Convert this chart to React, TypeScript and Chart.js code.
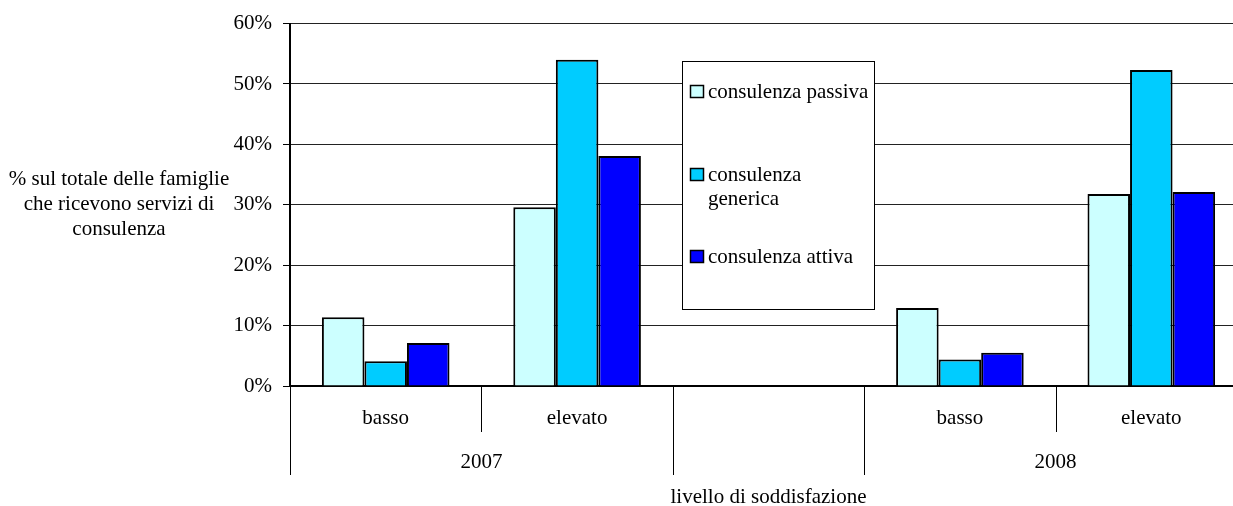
import React, { useEffect, useRef } from "react";
import { Chart, registerables } from "chart.js";

Chart.register(...registerables);

const categories = ["basso", "elevato", "", "basso", "elevato"];
const groupLabels = ["2007", "", "2008"];
const groupSizes = [2, 1, 2];
const seriesNames = ["consulenza passiva", "consulenza generica", "consulenza attiva"];
const legendLines = [["consulenza passiva"], ["consulenza", "generica"], ["consulenza attiva"]];
const passiva = [11.4, 29.6, null, 12.9, 31.8];
const generica = [4.1, 54.0, null, 4.4, 52.3];
const attiva = [7.1, 38.1, null, 5.5, 32.1];
const colors = ["#CCFFFF", "#00CCFF", "#0000FF"];
const yTitleLines = ["% sul totale delle famiglie", "che ricevono servizi di", "consulenza"];
const xTitle = "livello di soddisfazione";

const FONT = "'Liberation Serif', 'Times New Roman', serif";
const FS = 21;

const overlayPlugin = {
  id: "overlay",
  afterDraw(chart: any) {
    const ctx = chart.ctx;
    const xs = chart.scales.x;
    const area = chart.chartArea;
    const bottom = area.bottom;
    const half = (xs.getPixelForValue(1) - xs.getPixelForValue(0)) / 2;
    ctx.save();
    ctx.font = `${FS}px ${FONT}`;
    ctx.fillStyle = "#000";
    ctx.textBaseline = "alphabetic";
    ctx.textAlign = "center";
    // level 1 labels
    categories.forEach((c, i) => {
      if (c) ctx.fillText(c, xs.getPixelForValue(i), bottom + 38);
    });
    // separators
    ctx.strokeStyle = "#000";
    ctx.lineWidth = 1;
    let idx = 0;
    const boundaries: number[] = [];
    groupSizes.forEach((size, g) => {
      const start = idx;
      const end = idx + size - 1;
      const left = xs.getPixelForValue(start) - half;
      const right = xs.getPixelForValue(end) + half;
      boundaries.push(left);
      if (g === groupSizes.length - 1) boundaries.push(right);
      for (let k = start; k < end; k++) {
        const x = Math.round(xs.getPixelForValue(k) + half) + 0.5;
        ctx.beginPath();
        ctx.moveTo(x, bottom);
        ctx.lineTo(x, bottom + 46);
        ctx.stroke();
      }
      if (groupLabels[g]) ctx.fillText(groupLabels[g], (left + right) / 2, bottom + 82);
      idx += size;
    });
    boundaries.forEach((b) => {
      const x = Math.round(b) + 0.5;
      ctx.beginPath();
      ctx.moveTo(x, bottom);
      ctx.lineTo(x, bottom + 89);
      ctx.stroke();
    });
    // x title
    ctx.fillText(xTitle, (area.left + area.right) / 2, bottom + 117);
    // y title
    yTitleLines.forEach((l, i) => ctx.fillText(l, 119, 185 + i * 25));
    // legend
    const lx = 682.5, ly = 61.5, lw = 192, lh = 248;
    ctx.fillStyle = "#fff";
    ctx.fillRect(lx, ly, lw, lh);
    ctx.strokeRect(lx, ly, lw, lh);
    ctx.textAlign = "left";
    const baselines = [98, 181, 263];
    legendLines.forEach((lines, i) => {
      ctx.fillStyle = colors[i];
      ctx.fillRect(690, baselines[i] - 13, 14, 13);
      ctx.strokeStyle = "#000";
      ctx.lineWidth = 1.5;
      ctx.strokeRect(690.5, baselines[i] - 12.5, 13, 12);
      ctx.fillStyle = "#000";
      lines.forEach((t, j) => ctx.fillText(t, 708, baselines[i] + j * 24));
    });
    ctx.restore();
  },
};

export default function App() {
  const ref = useRef<HTMLCanvasElement>(null);
  useEffect(() => {
    if (!ref.current) return;
    const data = [passiva, generica, attiva];
    const chart = new Chart(ref.current, {
      type: "bar",
      data: {
        labels: categories,
        datasets: seriesNames.map((n, i) => ({
          label: n,
          data: data[i] as any,
          backgroundColor: colors[i],
          borderColor: "#000",
          borderWidth: 2,
          barPercentage: 1,
          categoryPercentage: 2 / 3,
        })),
      },
      options: {
        responsive: false,
        animation: false,
        devicePixelRatio: 1,
        layout: { padding: { left: 0, right: 13, top: 22, bottom: 0 } },
        plugins: { legend: { display: false }, tooltip: { enabled: false }, title: { display: false } },
        scales: {
          x: {
            grid: { display: false },
            border: { display: true, color: "#000", width: 2 },
            ticks: { display: false },
            afterFit: (s: any) => {
              s.height = 120;
            },
          },
          y: {
            min: 0,
            max: 60,
            ticks: {
              stepSize: 10,
              callback: (v: any) => v + "%",
              font: { family: FONT, size: FS },
              color: "#000",
              padding: 11,
            },
            grid: { color: "#222", lineWidth: 1, tickLength: 7, tickColor: "#000" },
            border: { display: true, color: "#000", width: 2 },
            afterFit: (s: any) => {
              s.width = 290;
            },
          },
        },
      },
      plugins: [overlayPlugin],
    });
    return () => chart.destroy();
  }, []);
  return (
    <div style={{ position: "absolute", left: 0, top: 0, width: 1233, height: 506, overflow: "hidden", background: "#fff" }}>
      <canvas ref={ref} width={1260} height={506} style={{ display: "block" }} />
    </div>
  );
}
